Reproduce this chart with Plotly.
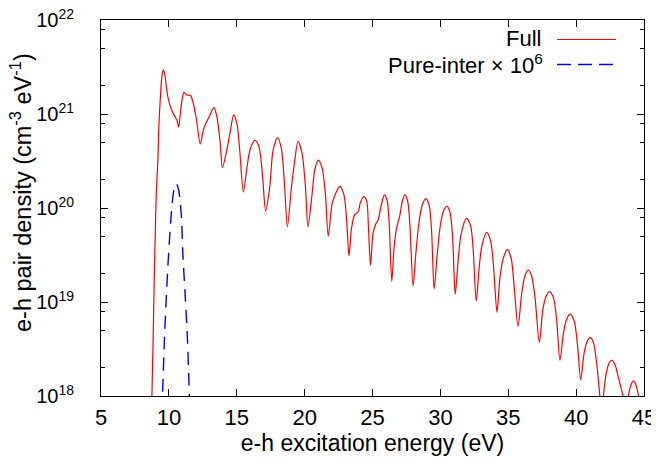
import plotly.graph_objects as go

# ---- data (energy in eV, log10 of density) ----
full_energy = [
    8.70, 8.75, 8.84, 8.92, 9.00, 9.07, 9.19, 9.26, 9.39, 9.50, 9.61, 9.72, 9.82, 9.93,
    10.18, 10.42, 10.60, 10.72, 10.91, 11.11, 11.33, 11.58, 11.77, 12.02, 12.31, 12.56,
    12.76, 13.00, 13.32, 13.54, 13.79, 13.94, 14.23, 14.53, 14.77, 15.01, 15.21, 15.49,
    15.75, 16.00, 16.34, 16.64, 16.89, 17.13, 17.43, 17.67, 18.00, 18.29, 18.53, 18.73,
    19.03, 19.27, 19.51, 19.81, 20.06, 20.25, 20.55, 20.74, 21.00, 21.28, 21.53, 21.74,
    22.02, 22.27, 22.59, 22.88, 23.08, 23.27, 23.45, 23.69, 23.94, 24.11, 24.34, 24.56,
    24.70, 24.85, 25.04, 25.24, 25.41, 25.66, 25.88, 26.08, 26.23, 26.42, 26.59, 26.77,
    27.01, 27.21, 27.38, 27.58, 27.75, 27.99, 28.19, 28.41, 28.66, 28.93, 29.17, 29.35,
    29.54, 29.77, 30.01, 30.21, 30.46, 30.70, 30.90, 31.09, 31.31, 31.51, 31.93, 32.23,
    32.42, 32.64, 32.86, 33.06, 33.41, 33.70, 33.92, 34.17, 34.39, 34.59, 34.93, 35.22,
    35.42, 35.72, 35.99, 36.23, 36.47, 36.72, 36.97, 37.29, 37.54, 37.76, 38.02, 38.32,
    38.57, 38.81, 39.06, 39.26, 39.55, 39.85, 40.09, 40.34, 40.58, 40.78, 41.03, 41.27,
    41.52, 41.71, 41.90, 42.05, 42.26, 42.47, 42.67, 42.90, 43.11, 43.45, 43.65, 43.85,
    44.02, 44.22, 44.42, 44.60, 44.80,
]
full_log10_density = [
    17.40, 18.00, 18.60, 19.23, 19.75, 20.15, 20.51, 20.86, 21.21, 21.42, 21.47, 21.40, 21.28, 21.18,
    21.05, 20.98, 20.93, 20.86, 21.09, 21.23, 21.20, 21.20, 21.13, 20.95, 20.68, 20.84,
    20.91, 20.98, 21.07, 20.97, 20.68, 20.43, 20.59, 20.82, 20.99, 20.90, 20.63, 20.17,
    20.43, 20.63, 20.72, 20.65, 20.36, 19.97, 20.22, 20.61, 20.75, 20.63, 20.22, 19.80,
    20.22, 20.50, 20.71, 20.58, 20.22, 19.80, 20.15, 20.40, 20.51, 20.43, 20.15, 19.70,
    20.04, 20.15, 20.23, 20.15, 19.90, 19.49, 19.78, 19.93, 19.96, 20.06, 20.12, 20.08,
    19.80, 19.39, 19.73, 19.83, 19.87, 20.04, 20.14, 20.08, 19.83, 19.22, 19.58, 19.78,
    19.92, 20.08, 20.14, 20.08, 19.83, 19.17, 19.51, 19.83, 20.03, 20.10, 20.03, 19.76,
    19.14, 19.51, 19.83, 19.96, 20.02, 19.96, 19.69, 19.08, 19.44, 19.71, 19.89, 19.81,
    19.55, 19.01, 19.37, 19.60, 19.74, 19.65, 19.37, 18.89, 19.26, 19.44, 19.56, 19.46,
    19.19, 18.74, 19.09, 19.28, 19.34, 19.28, 19.05, 18.57, 18.91, 19.05, 19.11, 19.05,
    18.80, 18.38, 18.66, 18.80, 18.87, 18.80, 18.56, 18.17, 18.45, 18.57, 18.62, 18.57,
    18.34, 18.06, 17.80, 18.06, 18.27, 18.36, 18.38, 18.32, 18.20, 18.00, 17.80, 18.00,
    18.11, 18.16, 18.11, 18.00, 17.75,
]

inter_energy = [9.46, 9.51, 9.56, 9.68, 9.81, 9.98, 10.18, 10.37, 10.55,
                10.72, 10.91, 11.03, 11.21, 11.36, 11.48, 11.53]
inter_log10_density = [17.60, 17.95, 18.13, 18.63, 19.05, 19.51, 19.94, 20.19, 20.26,
                       20.19, 19.94, 19.51, 19.05, 18.63, 18.13, 17.90]

x_ticks = [5, 10, 15, 20, 25, 30, 35, 40, 45]
y_tick_exponents = [18, 19, 20, 21, 22]
y_minor_mantissas = [2, 5, 8]

full_density = [10.0 ** v for v in full_log10_density]
inter_density = [10.0 ** v for v in inter_log10_density]

FONT = "Liberation Sans, Arial, Helvetica, sans-serif"
XTICK_SIZE = 22
YTICK_SIZE = 20
XTITLE_SIZE = 23
YTITLE_SIZE = 23.5
LEGEND_SIZE = 22

# page body has an 8px margin: the figure is drawn from (8, 8)
OFF = 8
PLOT_L, PLOT_R, PLOT_T, PLOT_B = 101, 644, 20, 396
W, H = 659 - OFF, 468 - OFF

fig = go.Figure()
fig.add_trace(go.Scatter(
    x=full_energy, y=full_density, mode="lines", name="Full",
    line=dict(color="#ff0000", width=1.2, shape="spline", smoothing=0.8),
    showlegend=False,
))
fig.add_trace(go.Scatter(
    x=inter_energy, y=inter_density, mode="lines", name="Pure-inter × 10<sup>6</sup>",
    line=dict(color="#0000ff", width=1.4, dash="13px,8px", shape="spline", smoothing=0.8),
    showlegend=False,
))

y_tickvals = [10.0 ** e for e in y_tick_exponents]
y_ticktext = ["10<sup>%d</sup>" % e for e in y_tick_exponents]
y_minor = [m * 10.0 ** e for e in y_tick_exponents[:-1] for m in y_minor_mantissas]

fig.update_layout(
    width=W, height=H,
    margin=dict(l=PLOT_L - OFF, r=659 - PLOT_R, t=PLOT_T - OFF, b=468 - PLOT_B, pad=0),
    paper_bgcolor="white", plot_bgcolor="white",
    font=dict(family=FONT, size=XTICK_SIZE, color="black"),
    xaxis=dict(
        range=[5, 45], tickmode="array", tickvals=x_ticks,
        ticks="inside", ticklen=7, tickcolor="black", tickwidth=1,
        showline=True, linecolor="black", linewidth=1, mirror="ticks",
        showgrid=False, zeroline=False, automargin=False,
        tickfont=dict(size=XTICK_SIZE), ticklabelstandoff=2,
        ticklabeloverflow="allow",
        title=dict(text="e-h excitation energy (eV)", standoff=4,
                   font=dict(size=XTITLE_SIZE)),
    ),
    yaxis=dict(
        type="log", range=[18, 22], tickmode="array",
        tickvals=y_tickvals, ticktext=y_ticktext,
        ticks="inside", ticklen=7, tickcolor="black", tickwidth=1,
        minor=dict(tickmode="array", tickvals=y_minor, ticks="inside",
                   ticklen=4, tickcolor="black", tickwidth=1, showgrid=False),
        showline=True, linecolor="black", linewidth=1, mirror="ticks",
        showgrid=False, zeroline=False, automargin=False,
        tickfont=dict(size=YTICK_SIZE), ticklabelstandoff=22,
        ticklabeloverflow="allow",
    ),
)

def px_to_paper_x(px):
    return (px - PLOT_L) / float(PLOT_R - PLOT_L)

def px_to_paper_y(py):
    return (PLOT_B - py) / float(PLOT_B - PLOT_T)

# y-axis title, placed like the gnuplot original
fig.add_annotation(x=px_to_paper_x(21), y=px_to_paper_y(193), xref="paper", yref="paper",
                   text="e-h pair density (cm<sup>-3</sup> eV<sup>-1</sup>)",
                   textangle=-90, showarrow=False, xanchor="center", yanchor="middle",
                   font=dict(size=YTITLE_SIZE, family=FONT))

# legend (gnuplot style: text right-aligned, sample to the right)
fig.add_annotation(x=px_to_paper_x(543), y=px_to_paper_y(39), xref="paper", yref="paper",
                   text="Full", showarrow=False, xanchor="right", yanchor="middle",
                   font=dict(size=LEGEND_SIZE, family=FONT))
fig.add_annotation(x=px_to_paper_x(545), y=px_to_paper_y(64), xref="paper", yref="paper",
                   text="Pure-inter × 10<sup>6</sup>", showarrow=False,
                   xanchor="right", yanchor="middle",
                   font=dict(size=LEGEND_SIZE, family=FONT))
fig.add_shape(type="line", xref="paper", yref="paper",
              x0=px_to_paper_x(557), x1=px_to_paper_x(616),
              y0=px_to_paper_y(39.5), y1=px_to_paper_y(39.5),
              line=dict(color="#ff0000", width=1.2))
fig.add_shape(type="line", xref="paper", yref="paper",
              x0=px_to_paper_x(557), x1=px_to_paper_x(616),
              y0=px_to_paper_y(64.5), y1=px_to_paper_y(64.5),
              line=dict(color="#0000ff", width=1.4, dash="14px,7px"))

fig.write_html("out.html")
